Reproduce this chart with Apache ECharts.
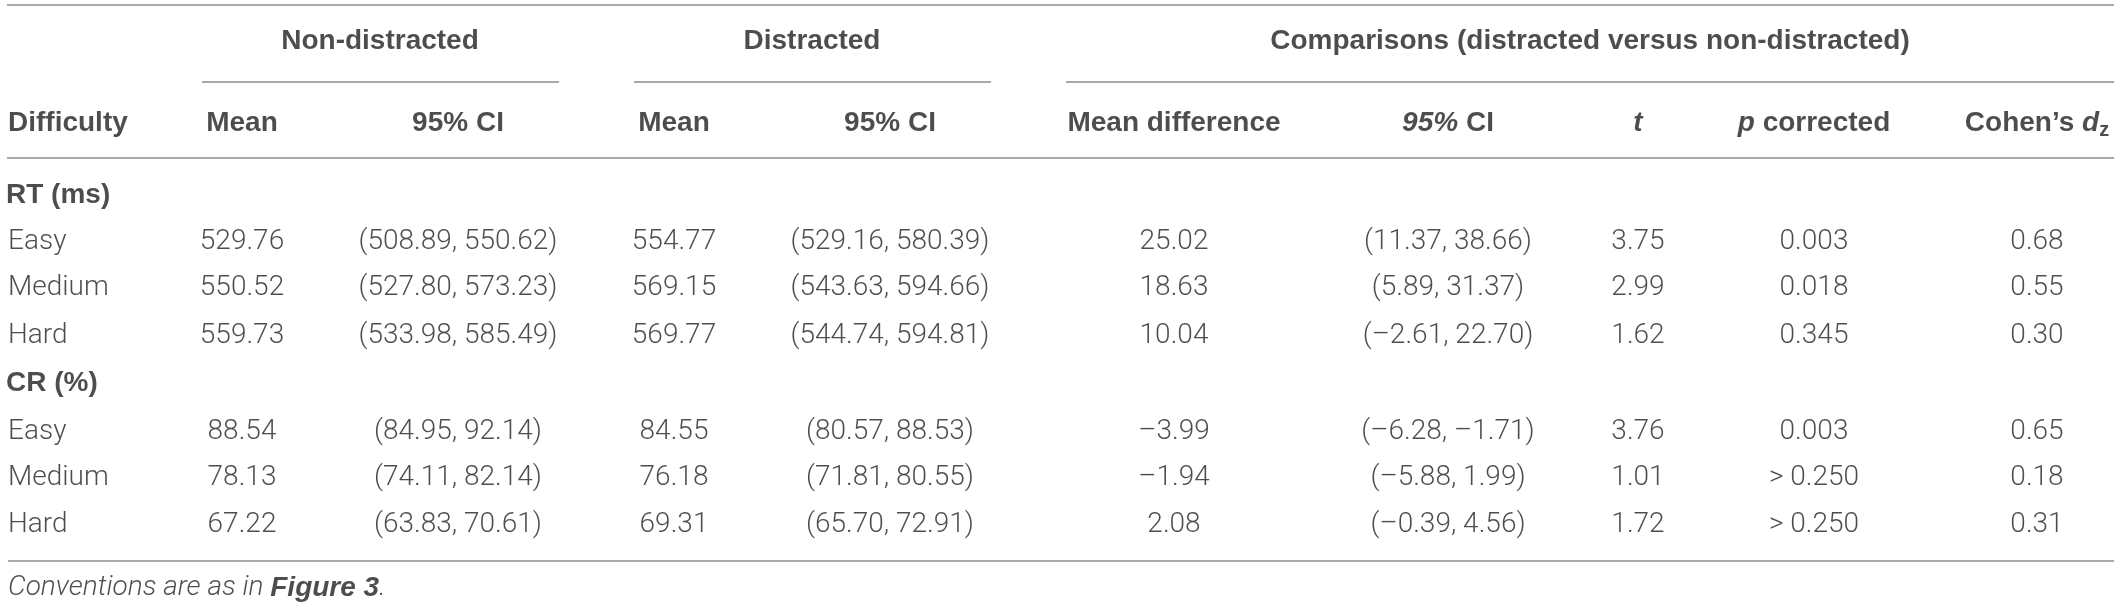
<!DOCTYPE html>
<html>
<head>
<meta charset="utf-8">
<script src="https://cdn.jsdelivr.net/npm/echarts@6/dist/echarts.min.js"></script>
<style>
  html, body { margin: 0; padding: 0; background: #fff; }
  #main { width: 2120px; height: 609px; }
</style>
</head>
<body>
<div id="main"></div>
<script>
// table content
const groups = ['Non-distracted', 'Distracted', 'Comparisons (distracted versus non-distracted)']
const columns = ['Difficulty', 'Mean', '95% CI', 'Mean', '95% CI', 'Mean difference', '{i|95%} CI', '{i|t}', '{i|p} corrected', 'Cohen\u2019s {i|d}{s|z}']
const difficulty = ['Easy', 'Medium', 'Hard']

const rtTitle = 'RT (ms)'
const rtNonMean = [529.76, 550.52, 559.73]
const rtNonCI = [[508.89, 550.62], [527.80, 573.23], [533.98, 585.49]]
const rtDisMean = [554.77, 569.15, 569.77]
const rtDisCI = [[529.16, 580.39], [543.63, 594.66], [544.74, 594.81]]
const rtDiff = [25.02, 18.63, 10.04]
const rtDiffCI = [[11.37, 38.66], [5.89, 31.37], [-2.61, 22.70]]
const rtT = [3.75, 2.99, 1.62]
const rtP = ['0.003', '0.018', '0.345']
const rtD = [0.68, 0.55, 0.30]

const crTitle = 'CR (%)'
const crNonMean = [88.54, 78.13, 67.22]
const crNonCI = [[84.95, 92.14], [74.11, 82.14], [63.83, 70.61]]
const crDisMean = [84.55, 76.18, 69.31]
const crDisCI = [[80.57, 88.53], [71.81, 80.55], [65.70, 72.91]]
const crDiff = [-3.99, -1.94, 2.08]
const crDiffCI = [[-6.28, -1.71], [-5.88, 1.99], [-0.39, 4.56]]
const crT = [3.76, 1.01, 1.72]
const crP = ['0.003', '> 0.250', '> 0.250']
const crD = [0.65, 0.18, 0.31]

const caption = 'Conventions are as in {b|Figure 3}.'

// layout (axis units = pixels)
const colX = [8, 242, 458, 674, 890, 1174, 1448, 1638, 1814, 2037]
const groupX = [380, 812, 1590]
const groupSpan = [[202, 559], [634, 991], [1066, 2114]]
const groupY = 41
const headY = 123
const sectionY = [[195, 242, 288, 336], [383, 432, 478, 525]]
const captionY = 588
const ruleY = { top: 5, group: 82, head: 158, bottom: 561 }

const ink = '#231f20'
const bodyFont = 'Roboto'
const headFont = 'Liberation Sans'

function fmt(v) { return (v < 0 ? '\u2013' : '') + Math.abs(v).toFixed(2) }
function ci(p) { return '(' + fmt(p[0]) + ', ' + fmt(p[1]) + ')' }

const blocks = [
  [rtTitle, rtNonMean, rtNonCI, rtDisMean, rtDisCI, rtDiff, rtDiffCI, rtT, rtP, rtD],
  [crTitle, crNonMean, crNonCI, crDisMean, crDisCI, crDiff, crDiffCI, crT, crP, crD]
]

let headCells = []
let bodyCells = []
groups.forEach((g, i) => headCells.push({ value: [groupX[i], groupY], text: g }))
columns.forEach((c, i) => headCells.push({ value: [colX[i], headY], text: c, label: { align: i === 0 ? 'left' : 'center' } }))

blocks.forEach((b, k) => {
  headCells.push({ value: [colX[0] - 2, sectionY[k][0]], text: b[0], label: { align: 'left' } })
  difficulty.forEach((d, j) => {
    const y = sectionY[k][j + 1]
    const cells = [d, fmt(b[1][j]), ci(b[2][j]), fmt(b[3][j]), ci(b[4][j]),
      fmt(b[5][j]), ci(b[6][j]), b[7][j].toFixed(2), b[8][j], b[9][j].toFixed(2)]
    cells.forEach((c, i) => bodyCells.push({ value: [colX[i], y], text: c, label: { align: i === 0 ? 'left' : 'center' } }))
  })
})
bodyCells.push({ value: [colX[0], captionY], text: caption, label: { align: 'left', fontStyle: 'italic' } })

let rules = [
  [[7, ruleY.top], [2114, ruleY.top]],
  [[7, ruleY.head], [2114, ruleY.head]],
  [[8, ruleY.bottom], [2114, ruleY.bottom]]
]
groupSpan.forEach(s => rules.push([[s[0], ruleY.group], [s[1], ruleY.group]]))

const chart = echarts.init(document.getElementById('main'), null, { renderer: 'canvas' })
chart.setOption({
  animation: false,
  backgroundColor: '#fff',
  grid: { left: 0, right: 0, top: 0, bottom: 0 },
  xAxis: { type: 'value', min: 0, max: 2120, show: false },
  yAxis: { type: 'value', min: 0, max: 609, inverse: true, show: false },
  series: [
    {
      type: 'lines',
      coordinateSystem: 'cartesian2d',
      silent: true,
      lineStyle: { color: '#8c8c8c', width: 1.5, opacity: 1 },
      data: rules.map(r => ({ coords: r }))
    },
    {
      type: 'scatter',
      silent: true,
      symbolSize: 0,
      itemStyle: { color: 'transparent' },
      label: {
        show: true,
        position: [0, 0],
        align: 'center',
        verticalAlign: 'middle',
        color: ink,
        fontFamily: headFont,
        fontWeight: 'bold',
        fontSize: 28,
        lineHeight: 34,
        formatter: p => p.data.text,
        rich: {
          i: { fontFamily: headFont, fontWeight: 'bold', fontStyle: 'italic', fontSize: 28, lineHeight: 34, color: ink },
          s: { fontFamily: headFont, fontWeight: 'bold', fontSize: 20, lineHeight: 20, verticalAlign: 'bottom', color: ink }
        }
      },
      data: headCells
    },
    {
      type: 'scatter',
      silent: true,
      symbolSize: 0,
      itemStyle: { color: 'transparent' },
      label: {
        show: true,
        position: [0, 0],
        align: 'center',
        verticalAlign: 'middle',
        color: ink,
        fontFamily: bodyFont,
        fontWeight: 300,
        fontSize: 28,
        formatter: p => p.data.text,
        rich: {
          b: { fontFamily: headFont, fontWeight: 'bold', fontStyle: 'italic', fontSize: 28, color: ink }
        }
      },
      data: bodyCells
    }
  ]
})
</script>
</body>
</html>
